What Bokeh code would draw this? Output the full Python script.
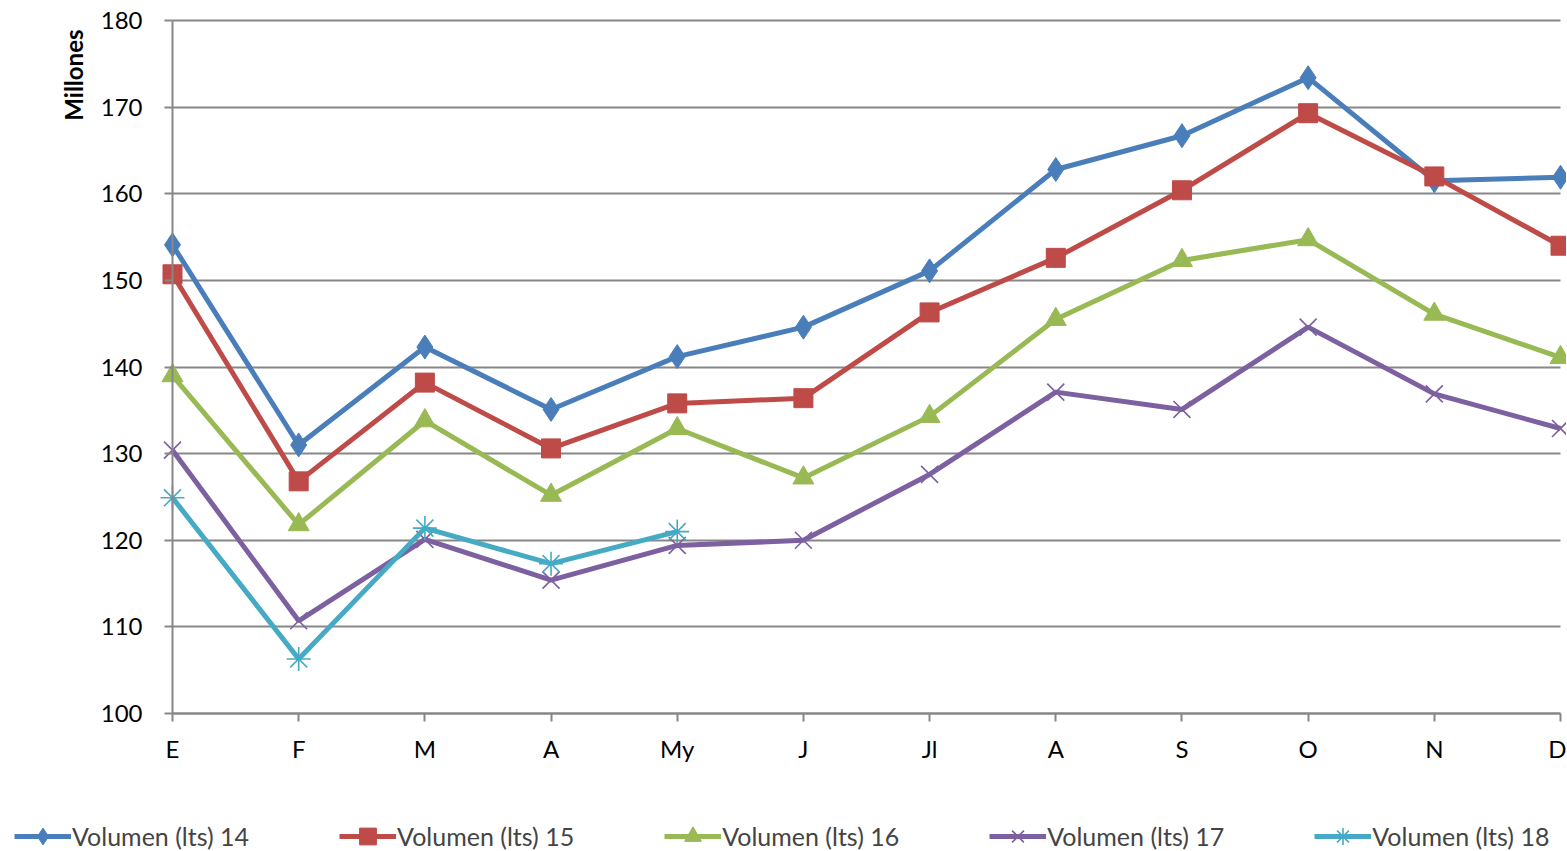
import math
from bokeh.plotting import figure
from bokeh.models import (Legend, LegendItem, FixedTicker, Range1d, LinearAxis,
                          Grid, Label)
from bokeh.embed import file_html
from bokeh.resources import INLINE

months = ["E", "F", "M", "A", "My", "J", "Jl", "A", "S", "O", "N", "D"]
vol14 = [154.1, 131.0, 142.3, 135.1, 141.2, 144.6, 151.1, 162.8, 166.7, 173.4, 161.5, 161.9]
vol15 = [150.7, 126.8, 138.2, 130.6, 135.8, 136.4, 146.3, 152.6, 160.4, 169.3, 162.0, 154.0]
vol16 = [139.0, 121.8, 133.8, 125.2, 132.9, 127.2, 134.3, 145.5, 152.3, 154.7, 146.1, 141.1]
vol17 = [130.4, 110.7, 120.1, 115.4, 119.4, 120.0, 127.6, 137.1, 135.1, 144.6, 136.9, 132.9]
vol18 = [124.9, 106.3, 121.4, 117.3, 121.0]
series_names = ["Volumen (lts) 14", "Volumen (lts) 15", "Volumen (lts) 16",
                "Volumen (lts) 17", "Volumen (lts) 18"]
y_ticks = [100, 110, 120, 130, 140, 150, 160, 170, 180]

colors = ["#4A7EBB", "#BE4B48", "#98B954", "#7D60A0", "#46AAC5"]
markers = ["diamond", "square", "triangle", "x", "asterisk"]
msizes = [24, 19, 21, 24, 24]

FONT = "Lato"

# canvas size and where the plotting area should sit (canvas pixels)
W, H = 1566, 850
PX_LEFT, PX_RIGHT = 172, 1560      # first / last category
PX_TOP, PX_BOTTOM = 20, 713        # y max / y min
n = len(months)
y_lo, y_hi = y_ticks[0], y_ticks[-1]
x_per = (PX_RIGHT - PX_LEFT) / (n - 1)
y_per = (PX_BOTTOM - PX_TOP) / (y_hi - y_lo)
x_range = Range1d(0 - PX_LEFT / x_per, (n - 1) + (W - PX_RIGHT) / x_per)
y_range = Range1d(y_lo - (H - PX_BOTTOM) / y_per, y_hi + PX_TOP / y_per)

p = figure(width=W, height=H, output_backend="svg", toolbar_location=None,
           x_range=x_range, y_range=y_range,
           x_axis_location=None, y_axis_location=None,
           min_border_left=0, min_border_right=0, min_border_top=0,
           min_border_bottom=0)
p.outline_line_color = None
p.background_fill_color = "white"
p.border_fill_color = "white"
for g in p.grid:
    g.visible = False

grid = Grid(dimension=1, ticker=FixedTicker(ticks=y_ticks),
            grid_line_color="#878787", grid_line_width=2,
            cross_bounds=(0, n - 1))
p.add_layout(grid)

xaxis = LinearAxis(fixed_location=y_lo, bounds=(0, n - 1),
                   ticker=FixedTicker(ticks=list(range(n))),
                   major_label_overrides={i: m for i, m in enumerate(months)})
yaxis = LinearAxis(fixed_location=0, bounds=(y_lo, y_hi),
                   ticker=FixedTicker(ticks=y_ticks))
for ax in (xaxis, yaxis):
    ax.axis_line_color = "#878787"
    ax.axis_line_width = 2
    ax.major_tick_line_color = "#878787"
    ax.major_tick_line_width = 2
    ax.major_tick_out = 8
    ax.major_tick_in = 0
    ax.minor_tick_line_color = None
    ax.major_label_text_font = FONT
    ax.major_label_text_font_size = "24px"
    ax.major_label_text_color = "black"
xaxis.major_label_standoff = 12
yaxis.major_label_standoff = 22
p.add_layout(xaxis, "below")
p.add_layout(yaxis, "left")

p.add_layout(Label(x=0 - (PX_LEFT - 73) / x_per, y=y_hi + (PX_TOP - 29) / y_per,
                   text="Millones", angle=math.pi / 2, text_align="right",
                   text_baseline="middle", text_font=FONT, text_font_size="24px",
                   text_font_style="bold", text_color="black"))

items = []
all_series = [vol14, vol15, vol16, vol17, vol18]
for name, ys, c, m, s in zip(series_names, all_series, colors, markers, msizes):
    xs = list(range(len(ys)))
    r1 = p.line(xs, ys, line_color=c, line_width=5)
    if m in ("x", "asterisk"):
        r2 = p.scatter(xs, ys, marker=m, size=s, line_color=c, line_width=1.6)
    else:
        r2 = p.scatter(xs, ys, marker=m, size=s, fill_color=c, line_color=c)
    items.append(LegendItem(label=name, renderers=[r1, r2]))

legend = Legend(items=items, orientation="horizontal", location=(14, -7),
                glyph_width=57, glyph_height=42, label_standoff=1,
                spacing=90, padding=0, margin=0, border_line_color=None,
                background_fill_alpha=0,
                label_text_font=FONT, label_text_font_size="25px")
p.add_layout(legend, "center")

open("out.html", "w").write(file_html(p, INLINE))
